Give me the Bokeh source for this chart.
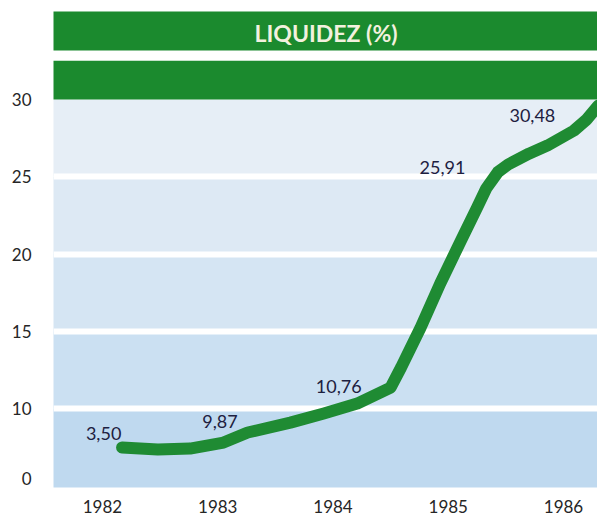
from bokeh.plotting import figure
from bokeh.models import FixedTicker, Range1d, Label
from bokeh.core.properties import value
from bokeh.embed import file_html
from bokeh.resources import INLINE

# ---- data ----
years = [1982, 1983, 1984, 1985, 1986]
year_labels = ["1982", "1983", "1984", "1985", "1986"]
liquidez = [3.50, 9.87, 10.76, 25.91, 30.48]
value_labels = ["3,50", "9,87", "10,76", "25,91", "30,48"]

# curve as drawn in the picture (year, axis units)
curve_x = [1982.17, 1982.48, 1982.76, 1983.05, 1983.26, 1983.63, 1983.92, 1984.21,
           1984.50, 1984.59, 1984.76, 1984.93, 1985.11, 1985.25, 1985.33, 1985.43,
           1985.52, 1985.70, 1985.86, 1986.09, 1986.20, 1986.30]
curve_y = [7.48, 7.35, 7.41, 7.80, 8.45, 9.09, 9.68, 10.32,
           11.36, 12.65, 15.24, 18.09, 20.87, 23.00, 24.25, 25.30,
           25.80, 26.50, 27.02, 27.99, 28.70, 29.60]

# where the value labels sit in the picture
label_x = [1982.01, 1983.02, 1984.05, 1984.95, 1985.73]
label_y = [8.38, 9.16, 11.42, 25.60, 28.96]

y_ticks = [5.5, 10, 15, 20, 25, 30]
y_tick_text = {5.5: "0"}

band_bottom = [4.0, 10, 15, 20, 25]
band_top = [10, 15, 20, 25, 30]
band_colors = ["#bfd9ef", "#cbe0f2", "#d5e5f3", "#dde9f4", "#e6eef6"]

GREEN = "#1b8a2e"
LINE_GREEN = "#1f8b33"
FONT = "Lato"

X0, X1 = 1981.575, 1986.295
Y0, Y1 = 4.89, 35.70

p = figure(width=597, height=521, output_backend="svg", toolbar_location=None,
           x_range=Range1d(X0, X1), y_range=Range1d(Y0, Y1),
           min_border_left=53, min_border_right=0, min_border_top=11, min_border_bottom=34)
p.outline_line_color = None
p.background_fill_color = "#ffffff"
p.border_fill_color = "#ffffff"

# background bands
p.quad(left=X0 - 1, right=X1 + 1, bottom=band_bottom, top=band_top,
       fill_color=band_colors, line_color=None, level="image")

# green header bands
p.quad(left=[X0 - 1, X0 - 1], right=[X1 + 1, X1 + 1],
       bottom=[30, 33.17], top=[32.52, Y1 + 1],
       fill_color=GREEN, line_color=None, level="image")

p.add_layout(Label(x=1983.94, y=34.30, text="LIQUIDEZ (%)", text_font=FONT,
                   text_font_size="23px", text_font_style="bold", text_color="#f3f1de",
                   text_align="center", text_baseline="middle"))

# grid
p.xgrid.visible = False
p.ygrid.ticker = FixedTicker(ticks=[10, 15, 20, 25])
p.ygrid.grid_line_color = "white"
p.ygrid.grid_line_width = 6

# curve
p.line(curve_x, curve_y, line_color=LINE_GREEN, line_width=12,
       line_cap="round", line_join="round")

# value labels
p.text(x=label_x, y=label_y, text=value_labels, text_font=value(FONT),
       text_font_size="18px", text_color="#1d2040", text_align="center",
       text_baseline="middle")

# axes
p.xaxis.ticker = FixedTicker(ticks=years)
p.xaxis.major_label_overrides = {y: t for y, t in zip(years, year_labels)}
p.yaxis.ticker = FixedTicker(ticks=y_ticks)
p.yaxis.major_label_overrides = y_tick_text
for ax in (p.xaxis, p.yaxis):
    ax.axis_line_color = None
    ax.major_tick_line_color = None
    ax.minor_tick_line_color = None
    ax.major_tick_out = 0
    ax.major_tick_in = 0
    ax.major_label_text_font = FONT
    ax.major_label_text_font_size = "17px"
    ax.major_label_text_color = "#262626"
p.xaxis.major_label_standoff = 12
p.yaxis.major_label_standoff = 22

open("out.html", "w").write(file_html(p, INLINE))
